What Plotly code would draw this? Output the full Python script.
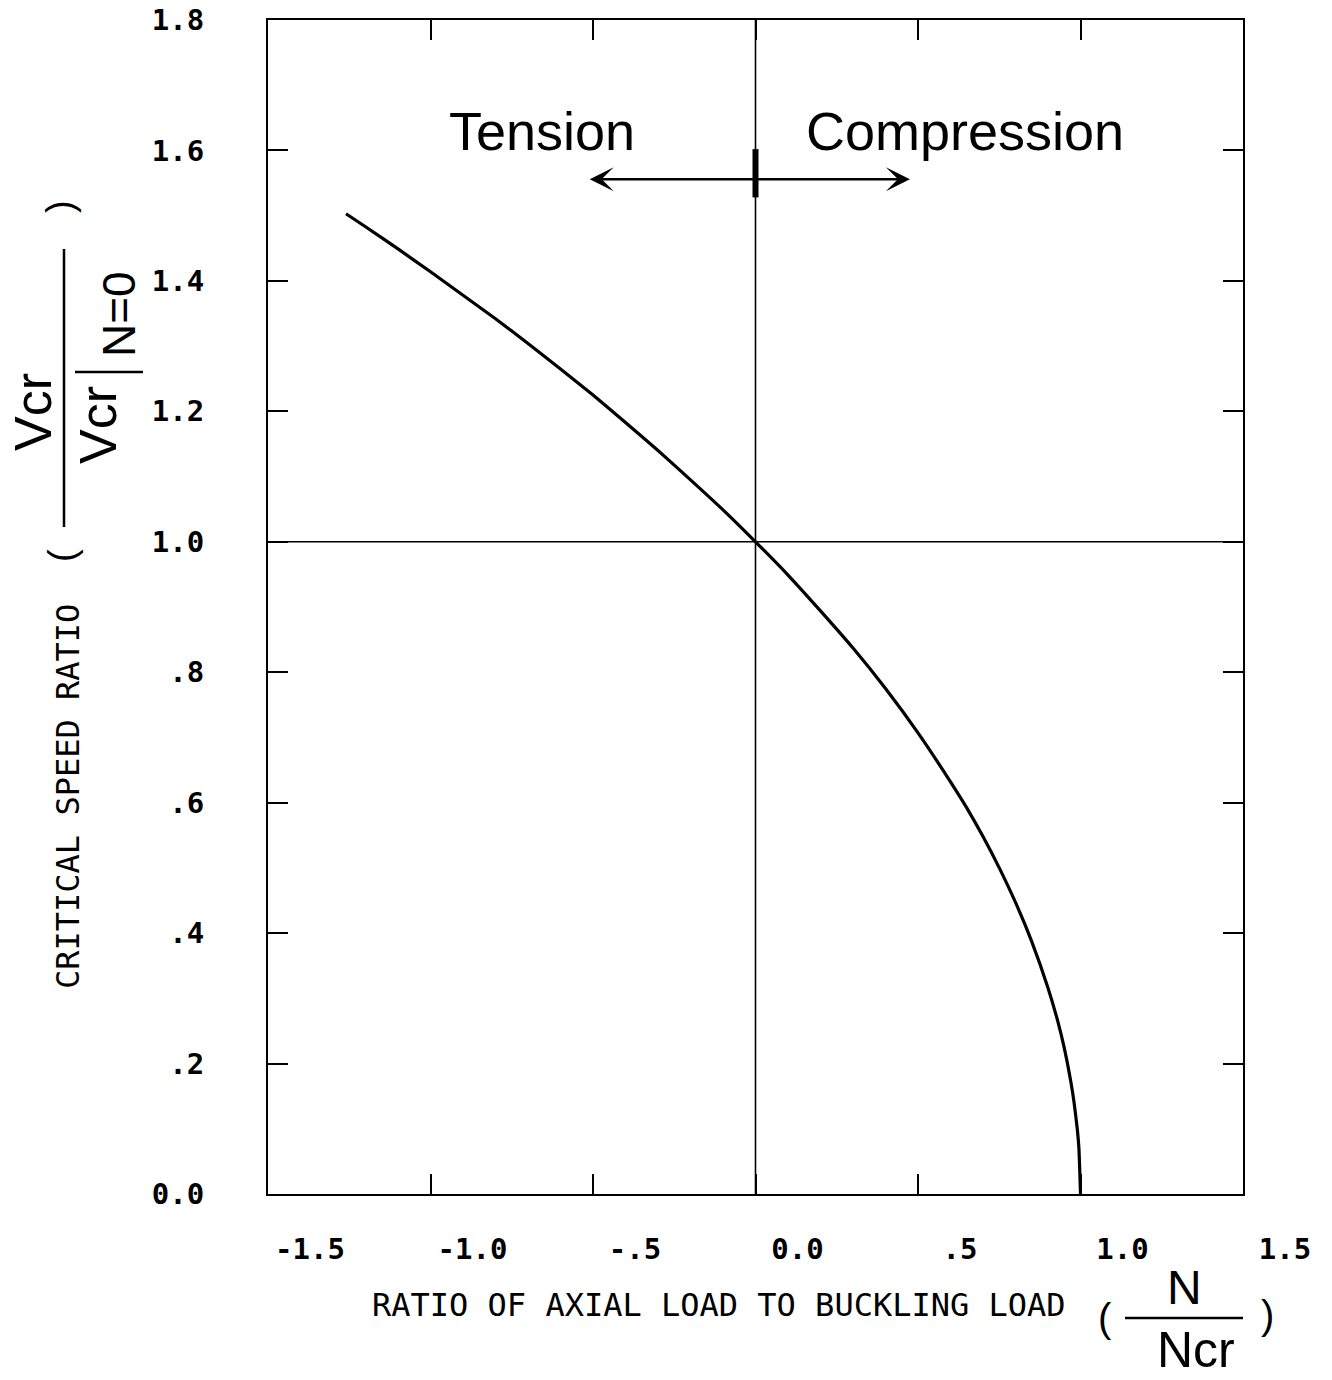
import plotly.graph_objects as go

# Data
load_ratio = [-1.26, -1.2, -1.1, -1.0, -0.9, -0.8, -0.7, -0.6, -0.5, -0.4, -0.3,
              -0.2, -0.1, 0.0, 0.1, 0.2, 0.3, 0.4, 0.5, 0.6, 0.65, 0.7, 0.75,
              0.8, 0.85, 0.9, 0.93, 0.95, 0.97, 0.98, 0.99, 0.995, 1.0]
speed_ratio = [1.503, 1.483, 1.449, 1.414, 1.378, 1.342, 1.304, 1.265, 1.225, 1.183,
               1.140, 1.095, 1.049, 1.000, 0.949, 0.894, 0.837, 0.775, 0.707, 0.632,
               0.592, 0.548, 0.500, 0.447, 0.387, 0.316, 0.265, 0.224, 0.173, 0.141,
               0.100, 0.071, 0.0]

x_tickvals = [-1.5, -1.0, -0.5, 0.0, 0.5, 1.0, 1.5]
x_ticktext = ["-1.5", "-1.0", "-.5", "0.0", ".5", "1.0", "1.5"]
y_tickvals = [0.0, 0.2, 0.4, 0.6, 0.8, 1.0, 1.2, 1.4, 1.6, 1.8]
y_ticktext = ["0.0", ".2", ".4", ".6", ".8", "1.0", "1.2", "1.4", "1.6", "1.8"]

ref_x = 0.0
ref_y = 1.0
arrow_y = 1.556
tension_tip = -0.51
compression_tip = 0.475

W, H = 1332, 1380
ML, MT = 268, 20
PW, PH = 975, 1174
MR, MB = W - ML - PW, H - MT - PH


def PX(px):
    return (px - ML) / PW


def PY(py):
    return (MT + PH - py) / PH


MONO = "DejaVu Sans Mono"
SANS = "Liberation Sans"


def note(px, py, text, size, family=SANS, angle=0):
    return dict(x=PX(px), y=PY(py), xref="paper", yref="paper", text=text,
                textangle=angle, showarrow=False, xanchor="center", yanchor="middle",
                font=dict(family=family, size=size, color="black"))


fig = go.Figure()
fig.add_trace(go.Scatter(x=load_ratio, y=speed_ratio, mode="lines",
                         line=dict(color="black", width=3.2, shape="spline", smoothing=0.5),
                         showlegend=False, hoverinfo="skip"))

shapes = [
    dict(type="line", xref="x", yref="y", x0=ref_x, x1=ref_x, y0=0, y1=1.8,
         line=dict(color="black", width=1.6)),
    dict(type="line", xref="x", yref="y", x0=-1.5, x1=1.5, y0=ref_y, y1=ref_y,
         line=dict(color="black", width=1.6)),
    dict(type="line", xref="x", yref="y", x0=ref_x, x1=ref_x, y0=1.528, y1=1.602,
         line=dict(color="black", width=6)),
    # y-axis fraction bar and evaluation bar
    dict(type="line", xref="paper", yref="paper", x0=PX(64), x1=PX(64),
         y0=PY(249), y1=PY(527), line=dict(color="black", width=2.5)),
    dict(type="line", xref="paper", yref="paper", x0=PX(75), x1=PX(143),
         y0=PY(372), y1=PY(372), line=dict(color="black", width=2.5)),
    # x-axis fraction bar
    dict(type="line", xref="paper", yref="paper", x0=PX(1125), x1=PX(1243),
         y0=PY(1318), y1=PY(1318), line=dict(color="black", width=2.5)),
]

annotations = [
    dict(x=-0.657, y=1.63, xref="x", yref="y", text="Tension", showarrow=False,
         font=dict(family=SANS, size=54, color="black")),
    dict(x=0.645, y=1.63, xref="x", yref="y", text="Compression", showarrow=False,
         font=dict(family=SANS, size=54, color="black")),
    dict(x=tension_tip, y=arrow_y, ax=ref_x, ay=arrow_y, xref="x", yref="y",
         axref="x", ayref="y", text="", showarrow=True, arrowhead=3,
         arrowsize=1.6, arrowwidth=2.5, arrowcolor="black"),
    dict(x=compression_tip, y=arrow_y, ax=ref_x, ay=arrow_y, xref="x", yref="y",
         axref="x", ayref="y", text="", showarrow=True, arrowhead=3,
         arrowsize=1.6, arrowwidth=2.5, arrowcolor="black"),
    # y-axis title
    note(68, 797, "CRITICAL SPEED RATIO", 32, MONO, -90),
    note(60, 207, ")", 38, SANS, -90),
    note(62, 556, "(", 38, SANS, -90),
    note(33, 412, "Vcr", 52, SANS, -90),
    note(98, 425, "Vcr", 52, SANS, -90),
    note(119, 314, "N=0", 46, SANS, -90),
    # x-axis title
    note(719, 1305, "RATIO OF AXIAL LOAD TO BUCKLING LOAD", 32, MONO),
    note(1105, 1318, "(", 40),
    note(1267, 1315, ")", 40),
    note(1184, 1287, "N", 48),
    note(1196, 1350, "Ncr", 50),
]

axis_common = dict(showline=True, linecolor="black", linewidth=2, mirror="ticks",
                   ticks="inside", ticklen=20, tickwidth=1.5, tickcolor="black",
                   showgrid=False, zeroline=False, automargin=False,
                   ticklabeloverflow="allow",
                   tickfont=dict(family=MONO, size=29, color="black", weight="bold"))

fig.update_layout(
    width=W, height=H,
    margin=dict(l=ML, r=MR, t=MT, b=MB, pad=0),
    paper_bgcolor="white", plot_bgcolor="white",
    xaxis=dict(range=[-1.5, 1.5], tickvals=x_tickvals, ticktext=x_ticktext,
               ticklabelstandoff=28, ticklabelshift=42, **axis_common),
    yaxis=dict(range=[0, 1.8], tickvals=y_tickvals, ticktext=y_ticktext,
               ticklabelstandoff=56, **axis_common),
    shapes=shapes, annotations=annotations, showlegend=False,
)

fig.write_html("out.html", config={"displayModeBar": False},
               post_script="document.body.style.margin='0px';")
